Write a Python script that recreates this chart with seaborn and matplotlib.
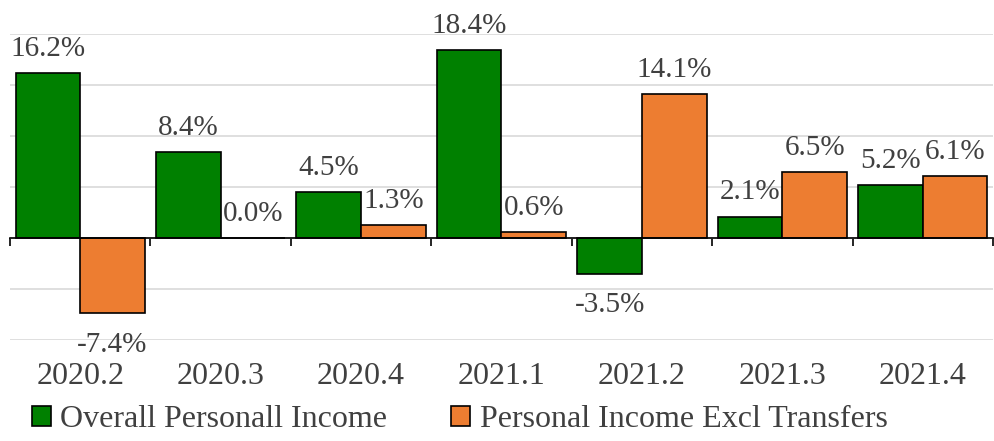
import numpy as np
import pandas as pd
import seaborn as sns
from matplotlib import pyplot as plt
from matplotlib.ticker import FixedLocator

quarters = ["2020.2", "2020.3", "2020.4", "2021.1", "2021.2", "2021.3", "2021.4"]
overall = [16.2, 8.4, 4.5, 18.4, -3.5, 2.1, 5.2]
excl_transfers = [-7.4, 0.0, 1.3, 0.6, 14.1, 6.5, 6.1]
series_names = ["Overall Personall Income", "Personal Income Excl Transfers"]
colors = ["#008000", "#ED7D31"]

df = pd.DataFrame({
    "quarter": quarters * 2,
    "value": overall + excl_transfers,
    "series": [series_names[0]] * len(quarters) + [series_names[1]] * len(quarters),
})

sns.set_style("white")
plt.rcParams["font.family"] = ["Liberation Serif", "DejaVu Serif"]
text_color = "#404040"

fig = plt.figure(figsize=(9.95, 4.41), dpi=100)
ax = fig.add_axes([0.010, 1 - 340 / 441, 0.988, (340 - 34) / 441])

sns.barplot(data=df, x="quarter", y="value", hue="series", palette=colors,
            saturation=1, width=0.92, edgecolor="black", linewidth=1.2, ax=ax)

ax.set_ylim(-10, 20)
ax.set_xlim(-0.5, len(quarters) - 0.5)
ax.set_yticks(np.arange(-10, 21, 5))
ax.yaxis.grid(True, color="#d9d9d9", linewidth=1.2)
ax.set_axisbelow(True)
ax.tick_params(axis="y", left=False, labelleft=False)
for side in ["left", "right", "top"]:
    ax.spines[side].set_visible(False)
ax.spines["bottom"].set_position(("data", 0))
ax.spines["bottom"].set_color("black")
ax.spines["bottom"].set_linewidth(1.2)
ax.spines["bottom"].set_zorder(5)

# category boundary ticks
ax.xaxis.set_minor_locator(FixedLocator(np.arange(-0.5, len(quarters), 1.0)))
ax.tick_params(axis="x", which="minor", bottom=True, length=6, width=1.2, color="black", direction="out")
ax.tick_params(axis="x", which="major", length=0, pad=89, labelsize=23, labelcolor=text_color)
ax.set_xlabel("")
ax.set_ylabel("")

# value labels: positive above the bar, negative below
for container in ax.containers:
    for bar, v in zip(container, container.datavalues):
        pad = 8 if v >= 0 else 13
        ax.annotate(f"{v:.1f}%", (bar.get_x() + bar.get_width() / 2, v),
                    xytext=(0, pad if v >= 0 else -pad), textcoords="offset points",
                    ha="center", va="bottom" if v >= 0 else "top",
                    fontsize=21, color=text_color)

handles, labels = ax.get_legend_handles_labels()
ax.legend(handles, labels, loc="center", bbox_to_anchor=(0.462, 0.048),
          bbox_transform=fig.transFigure, ncol=2, frameon=False, fontsize=23,
          handlelength=0.6, handleheight=0.6, handletextpad=0.3,
          columnspacing=2.0, labelcolor=text_color)

fig.savefig("out.png", dpi=100)
